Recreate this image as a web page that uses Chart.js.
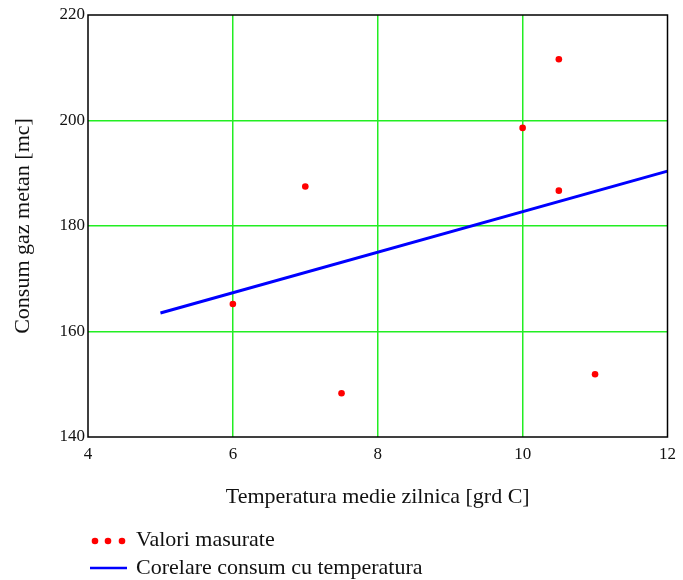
<!DOCTYPE html>
<html>
<head>
<meta charset="utf-8">
<script src="https://cdn.jsdelivr.net/npm/chart.js@4/dist/chart.umd.min.js"></script>
<style>
  html, body { margin: 0; padding: 0; background: #fff; }
  #wrap { position: relative; width: 683px; height: 580px; }
</style>
</head>
<body>
<div id="wrap"><canvas id="c" width="683" height="580"></canvas></div>
<script>
// ---- data ----
const measuredTemp = [6, 7, 7.5, 10, 10.5, 10.5, 11];
const measuredConsum = [165.2, 187.5, 148.3, 198.6, 211.6, 186.7, 151.9];
const fitTemp = [5, 12];
const fitConsum = [163.5, 190.4];
const xTickValues = [4, 6, 8, 10, 12];
const yTickValues = [140, 160, 180, 200, 220];
const seriesLabels = ['Valori masurate', 'Corelare consum cu temperatura'];
const xTitle = 'Temperatura medie zilnica [grd C]';
const yTitle = 'Consum gaz metan [mc]';

const FONT = '"Liberation Serif", "Times New Roman", serif';
const GRID = '#22ee22';
const TEXT = '#111';

const legendPlugin = {
  id: 'customLegend',
  afterDraw(chart) {
    const ctx = chart.ctx;
    const ca = chart.chartArea;
    ctx.save();
    // plot frame
    ctx.strokeStyle = '#000';
    ctx.lineWidth = 1.5;
    ctx.strokeRect(ca.left, ca.top, ca.right - ca.left, ca.bottom - ca.top);
    // legend
    ctx.font = '22px ' + FONT;
    ctx.textBaseline = 'middle';
    const ds = chart.data.datasets;
    const y0 = 540, y1 = 568;
    ctx.fillStyle = ds[0].pointBackgroundColor;
    [95, 108, 122].forEach(x => { ctx.beginPath(); ctx.arc(x, y0 + 1, 3.3, 0, Math.PI * 2); ctx.fill(); });
    ctx.fillStyle = TEXT;
    ctx.fillText(ds[0].label, 136, y0);
    ctx.strokeStyle = ds[1].borderColor;
    ctx.lineWidth = 2.5;
    ctx.beginPath(); ctx.moveTo(90, y1); ctx.lineTo(127, y1); ctx.stroke();
    ctx.fillText(ds[1].label, 136, y1);
    ctx.restore();
  }
};

new Chart(document.getElementById('c'), {
  type: 'scatter',
  data: {
    datasets: [
      {
        label: seriesLabels[0],
        data: measuredTemp.map((t, i) => ({ x: t, y: measuredConsum[i] })),
        pointBackgroundColor: '#ff0000',
        pointBorderColor: '#ff0000',
        pointRadius: 3.3,
        pointBorderWidth: 0,
        showLine: false
      },
      {
        label: seriesLabels[1],
        data: fitTemp.map((t, i) => ({ x: t, y: fitConsum[i] })),
        borderColor: '#0000ff',
        borderWidth: 3,
        pointRadius: 0,
        showLine: true,
        fill: false
      }
    ]
  },
  options: {
    responsive: false,
    animation: false,
    devicePixelRatio: 1,
    layout: { padding: { left: 0, top: 15, right: 12, bottom: 0 } },
    plugins: { legend: { display: false }, tooltip: { enabled: false } },
    scales: {
      x: {
        type: 'linear',
        min: 4, max: 12,
        afterBuildTicks(scale) { scale.ticks = xTickValues.map(v => ({ value: v })); },
        afterFit(scale) { scale.height = 143; },
        grid: {
          drawTicks: false,
          lineWidth: 1.5,
          color: ctx => (ctx.tick && (ctx.tick.value === 4 || ctx.tick.value === 12)) ? 'rgba(0,0,0,0)' : GRID
        },
        border: { display: false },
        ticks: { color: TEXT, font: { family: FONT, size: 17 }, padding: 7, maxRotation: 0 },
        title: {
          display: true, text: xTitle, color: TEXT,
          font: { family: FONT, size: 22 }, padding: { top: 0, bottom: 70 }
        }
      },
      y: {
        type: 'linear',
        min: 140, max: 220,
        afterBuildTicks(scale) { scale.ticks = yTickValues.map(v => ({ value: v })); },
        afterFit(scale) { scale.width = 88; },
        grid: {
          drawTicks: false,
          lineWidth: 1.5,
          color: ctx => (ctx.tick && (ctx.tick.value === 140 || ctx.tick.value === 220)) ? 'rgba(0,0,0,0)' : GRID
        },
        border: { display: false },
        ticks: { color: TEXT, font: { family: FONT, size: 17 }, padding: 3 },
        title: {
          display: true, text: yTitle, color: TEXT,
          font: { family: FONT, size: 22 }, padding: { top: 10, bottom: 0 }
        }
      }
    }
  },
  plugins: [legendPlugin]
});
</script>
</body>
</html>
